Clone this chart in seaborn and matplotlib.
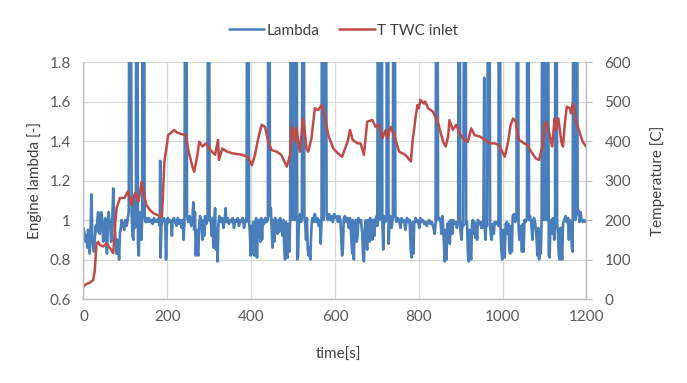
import numpy as np
import pandas as pd
import matplotlib
matplotlib.use("Agg")
import matplotlib.pyplot as plt
import seaborn as sns
from matplotlib.lines import Line2D
from matplotlib.ticker import FuncFormatter

# ===== DATA =====
# engine lambda, (time [s], lambda [-]); values above 1.8 are the clipped spikes
lambda_points = [
    (0, 0.96), (3, 0.93), (5, 0.89), (7, 0.92), (9, 0.86), (11, 0.95), (13, 0.90), (15, 0.83),
    (17, 0.96), (19, 1.13), (21, 0.92), (23, 0.86), (25, 0.84), (27, 0.90), (29, 0.97), (31, 0.94),
    (33, 1.00), (35, 1.04), (37, 0.96), (39, 0.93), (41, 1.02), (43, 1.04), (45, 0.99), (47, 0.89),
    (49, 0.95), (52, 1.01), (54, 0.90), (56, 0.83), (58, 0.95), (60, 1.04), (62, 1.00), (64, 0.97),
    (66, 0.89), (68, 0.95), (71, 1.16), (73, 1.00), (75, 0.96), (77, 0.88), (79, 0.83), (81, 0.90),
    (83, 0.86), (85, 0.80), (87, 0.93), (89, 0.96), (91, 1.00), (94, 0.98), (97, 0.95), (100, 1.00),
    (103, 0.97), (106, 1.01), (108, 1.04), (110, 3.0), (112, 3.0), (115, 1.03), (117, 0.92), (119, 0.90),
    (121, 1.10), (123, 0.96), (125, 1.02), (126, 3.0), (128, 3.0), (130, 0.88), (132, 0.82), (134, 1.04),
    (136, 0.95), (138, 0.90), (140, 1.00), (141, 3.0), (144, 3.0), (146, 1.02), (148, 0.99), (150, 1.01),
    (153, 0.99), (156, 1.01), (159, 0.99), (162, 1.00), (165, 0.98), (168, 1.01), (171, 0.99), (174, 1.00),
    (177, 0.99), (180, 1.01), (182, 0.97), (183, 1.30), (184, 0.81), (186, 0.97), (189, 1.00), (192, 1.01),
    (195, 0.99), (197, 0.80), (199, 0.97), (201, 1.01), (203, 0.99),
    (206, 1.00), (209, 0.99), (211, 0.92), (213, 1.00), (216, 1.01), (219, 0.99), (222, 0.97), (225, 1.01),
    (228, 0.98), (231, 1.00), (234, 0.96), (237, 1.00), (239, 0.90), (241, 1.00), (243, 3.0), (245, 3.0),
    (247, 1.02), (250, 0.99), (253, 1.02), (257, 0.97), (260, 1.01), (262, 1.09), (264, 0.95), (266, 1.04),
    (268, 0.82), (270, 0.95), (272, 0.84), (274, 0.82), (276, 0.97), (278, 1.02), (281, 0.99), (284, 0.90),
    (286, 1.00), (288, 0.92), (290, 1.02), (293, 0.98), (296, 1.00), (297, 3.0), (299, 3.0), (301, 1.00),
    (304, 0.99), (306, 0.92), (308, 1.01), (310, 0.86), (312, 0.98), (314, 1.06), (316, 0.85), (318, 0.95),
    (320, 0.79), (322, 0.98), (324, 1.02), (328, 0.99), (331, 1.01), (334, 0.96), (337, 1.00), (339, 1.06),
    (341, 0.99), (344, 1.01), (347, 0.98), (350, 1.00), (353, 0.99), (356, 1.01), (359, 0.96), (362, 1.00),
    (365, 0.99), (368, 1.01), (371, 0.97), (374, 1.00), (377, 0.99), (380, 1.01), (383, 0.96), (386, 1.00),
    (389, 0.99), (391, 3.0), (393, 3.0), (395, 1.00), (397, 0.93), (399, 0.82), (401, 0.97), (403, 0.83),
    (405, 0.99),
    (408, 0.82), (410, 0.98), (412, 1.01), (414, 0.81), (416, 0.99), (419, 1.00), (422, 0.89), (424, 1.01),
    (426, 0.90), (428, 1.00), (431, 0.98), (434, 1.01), (437, 0.99), (440, 1.00), (441, 3.0), (443, 3.0),
    (445, 1.02), (447, 1.06), (449, 0.95), (451, 0.86), (453, 1.00), (455, 0.89), (457, 1.01), (460, 0.99),
    (463, 0.93), (465, 1.00), (467, 0.94), (469, 1.01), (472, 0.99), (475, 0.92), (477, 1.00), (479, 0.86),
    (481, 0.80), (483, 0.99), (485, 0.82), (487, 0.81), (489, 0.98), (491, 0.84), (493, 1.00), (495, 3.0),
    (497, 3.0), (499, 1.0), (500, 3.0), (502, 3.0), (504, 1.0), (505, 3.0), (508, 3.0), (510, 0.80),
    (512, 0.82), (514, 1.00), (517, 1.03), (519, 0.99), (521, 1.01), (523, 3.0), (525, 3.0), (527, 1.01),
    (529, 0.98), (531, 0.90), (533, 1.01), (535, 0.85), (537, 0.82), (539, 0.86), (541, 0.80), (544, 0.97),
    (546, 1.01), (549, 0.99), (552, 1.03), (555, 0.99), (558, 1.01), (561, 0.97), (564, 1.00), (566, 0.88),
    (568, 1.00), (569, 3.0), (571, 3.0), (573, 1.0), (576, 3.0), (578, 3.0), (580, 1.02), (583, 1.00),
    (586, 1.03), (589, 1.00), (592, 1.02), (595, 0.99), (598, 1.03), (601, 1.01), (604, 1.02), (607, 0.99),
    (610, 1.02), (613, 1.00), (617, 0.82), (619, 0.86), (621, 1.01), (624, 1.02), (627, 0.99), (630, 1.01),
    (633, 0.96), (636, 1.01), (639, 0.90), (641, 0.83), (643, 1.00), (645, 0.80), (647, 0.97), (650, 1.00),
    (652, 0.89), (654, 0.92), (656, 1.01), (659, 0.99), (662, 1.00), (665, 0.93), (667, 0.82), (669, 0.79),
    (671, 0.95), (673, 1.00), (675, 0.87), (677, 0.85), (679, 1.00), (682, 0.89), (684, 1.01), (687, 0.98),
    (689, 0.90), (691, 1.00), (694, 0.92), (696, 1.00), (699, 1.02), (701, 0.97), (703, 3.0), (705, 3.0),
    (707, 1.0), (708, 3.0), (711, 3.0), (713, 1.00), (715, 0.85), (717, 1.02), (720, 0.99), (723, 1.01),
    (724, 3.0), (726, 3.0), (728, 0.88), (730, 0.99), (732, 1.02), (735, 0.96), (738, 1.01), (740, 3.0),
    (742, 3.0), (744, 1.02), (747, 0.99), (750, 1.01), (753, 1.00), (756, 0.96), (759, 1.01), (762, 0.99),
    (765, 1.00), (768, 0.95), (772, 1.01), (775, 0.99), (778, 1.00), (781, 0.84), (783, 0.81), (785, 0.99),
    (787, 0.83), (789, 0.98), (792, 1.01), (795, 0.99), (798, 1.00), (801, 0.96), (804, 1.01), (807, 0.99),
    (810, 1.00),
    (813, 0.98), (816, 0.99), (819, 0.97), (822, 0.99), (825, 1.00), (828, 0.98), (831, 0.99), (835, 0.96),
    (838, 0.93), (840, 0.99), (842, 3.0), (844, 3.0), (846, 1.00), (849, 1.01), (852, 0.99), (854, 0.93),
    (856, 1.02), (858, 0.97), (860, 0.88), (862, 0.79), (864, 0.95), (866, 0.80), (868, 0.98), (870, 0.90),
    (872, 0.99), (874, 0.88), (876, 1.00), (878, 0.97), (880, 0.93), (882, 1.00), (885, 0.98), (888, 0.99),
    (891, 0.96), (894, 1.00), (895, 3.0), (897, 3.0), (899, 0.95), (902, 0.90), (904, 0.99), (906, 0.97),
    (909, 3.0), (911, 3.0), (913, 0.98), (915, 0.99), (917, 0.83), (919, 0.79), (921, 0.95), (923, 0.82),
    (925, 0.80), (927, 0.98), (929, 1.00), (931, 0.93), (933, 0.99), (935, 0.91), (937, 0.98), (939, 0.90),
    (941, 1.00), (944, 0.98), (947, 0.99), (949, 0.96), (952, 0.99), (954, 0.96), (956, 1.72), (957, 0.98),
    (959, 0.90), (961, 0.99), (963, 0.97), (966, 3.0), (968, 3.0), (970, 0.98), (972, 0.92), (974, 0.90),
    (976, 0.98), (979, 0.93), (981, 0.99), (984, 0.98), (987, 0.99), (990, 0.97), (991, 3.0), (993, 3.0),
    (995, 0.96), (997, 0.84), (999, 0.80), (1001, 0.95), (1003, 0.84), (1005, 0.81), (1007, 0.98), (1010, 0.99),
    (1012, 0.93), (1014, 0.98),
    (1016, 0.85), (1018, 0.83), (1020, 0.97), (1022, 0.84), (1024, 1.02), (1027, 1.03), (1030, 0.99), (1033, 1.00),
    (1034, 3.0), (1036, 3.0), (1038, 0.96), (1040, 0.90), (1042, 0.97), (1044, 0.93), (1046, 0.84), (1048, 0.98),
    (1050, 0.84), (1052, 1.00), (1055, 0.99), (1058, 1.01), (1059, 3.0), (1061, 3.0), (1063, 1.00), (1065, 1.02),
    (1068, 0.99), (1071, 0.90), (1073, 1.00), (1075, 1.01), (1078, 0.98), (1081, 0.90), (1083, 0.82), (1085, 0.96),
    (1087, 0.80), (1089, 0.92), (1091, 0.83), (1093, 1.00), (1095, 3.0), (1097, 3.0), (1099, 1.0), (1100, 3.0),
    (1103, 3.0), (1105, 1.0), (1106, 3.0), (1108, 3.0), (1110, 0.82), (1112, 0.81), (1114, 0.98), (1116, 1.00),
    (1118, 0.93), (1120, 1.01), (1123, 0.90), (1125, 0.98), (1126, 3.0), (1128, 3.0), (1130, 0.99), (1132, 0.93),
    (1134, 0.82), (1136, 0.80), (1138, 0.96), (1140, 0.85), (1142, 0.80), (1144, 0.98), (1147, 1.00), (1150, 1.02),
    (1153, 0.99), (1156, 1.01), (1158, 0.90), (1160, 1.00), (1163, 0.98), (1165, 0.86), (1167, 0.84), (1169, 3.0),
    (1171, 3.0), (1173, 1.0), (1175, 3.0), (1177, 3.0), (1179, 1.03), (1181, 1.05), (1183, 0.99), (1186, 1.04),
    (1188, 1.00), (1191, 0.99), (1194, 1.00), (1197, 0.99), (1200, 1.00),
]

# TWC inlet temperature, (time [s], T [C])
temp_points = [
    (0, 32), (7, 38), (16, 42), (23, 48), (27, 72), (31, 140), (35, 145), (39, 137), (47, 133),
    (55, 141), (63, 129), (71, 116), (75, 180), (79, 230), (87, 256), (98, 256), (106, 272),
    (115, 238), (123, 268), (131, 247), (139, 297), (143, 272), (150, 238), (158, 226), (166, 218),
    (177, 212), (187, 208), (189, 250), (193, 348), (199, 390), (202, 415), (208, 420), (216, 428),
    (224, 421), (232, 418), (244, 415), (251, 373), (260, 335), (264, 322), (272, 365), (276, 398),
    (284, 386), (292, 394), (303, 377), (314, 365), (321, 403), (323, 352), (331, 381), (343, 373),
    (355, 369), (367, 367), (379, 365), (391, 360), (402, 339), (409, 365), (417, 407), (425, 441),
    (433, 436), (441, 398), (449, 377), (461, 373), (472, 365), (485, 335), (493, 365), (497, 436),
    (501, 425), (504, 398), (508, 433), (516, 373), (524, 457), (528, 424), (532, 381), (536, 373),
    (544, 407), (552, 483), (560, 478), (568, 491), (576, 462), (584, 415), (596, 381), (607, 369),
    (617, 360), (630, 398), (636, 428), (642, 403), (654, 394), (661, 394), (669, 365), (677, 449),
    (689, 453), (697, 436), (705, 441), (713, 407), (721, 428), (725, 407), (733, 436), (741, 415),
    (753, 373), (768, 365), (781, 348), (785, 398), (793, 466), (797, 491), (800, 483), (804, 504),
    (812, 495), (815, 500), (822, 483), (834, 474), (846, 445), (858, 398), (864, 386), (870, 411),
    (873, 453), (881, 428), (889, 441), (897, 420), (905, 407), (917, 398), (925, 432), (933, 415),
    (946, 411), (958, 403), (969, 394), (981, 394), (990, 390), (997, 377), (1005, 360), (1013, 398),
    (1019, 441), (1025, 457), (1031, 449), (1039, 403), (1051, 394), (1059, 390), (1068, 373),
    (1079, 356), (1087, 352), (1096, 394), (1100, 441), (1105, 449), (1112, 415), (1118, 386),
    (1124, 457), (1127, 428), (1133, 457), (1140, 398), (1144, 386), (1148, 441), (1153, 487),
    (1160, 483), (1163, 470), (1167, 495), (1171, 483), (1175, 449), (1183, 424), (1191, 398),
    (1199, 386),
]

x_ticks = [0, 200, 400, 600, 800, 1000, 1200]
lambda_ticks = [0.6, 0.8, 1.0, 1.2, 1.4, 1.6, 1.8]
temp_ticks = [0, 100, 200, 300, 400, 500, 600]

df_lambda = pd.DataFrame(lambda_points, columns=["time", "lambda"])
df_temp = pd.DataFrame(temp_points, columns=["time", "temp"])

BLUE = "#4a7ebb"
RED = "#be4b48"
GRID = "#d9d9d9"
TICK_TXT = "#595959"
LABEL_TXT = "#404040"

# ===== STYLE =====
sns.set_style("white")
plt.rcParams["font.family"] = ["Lato", "DejaVu Sans"]
plt.rcParams["font.size"] = 11

fig = plt.figure(figsize=(6.87, 3.83), dpi=100)
ax = fig.add_axes([0.1215, 0.2193, 0.7322, 0.6188])
ax2 = ax.twinx()

# ===== PLOT =====
sns.lineplot(data=df_lambda, x="time", y="lambda", ax=ax, color=BLUE, linewidth=1.9,
             estimator=None, sort=False)
sns.lineplot(data=df_temp, x="time", y="temp", ax=ax2, color=RED, linewidth=1.8,
             estimator=None, sort=False)

ax.set_xlim(0, 1200)
ax.set_ylim(0.6, 1.8)
ax2.set_ylim(0, 600)
ax.set_xticks(x_ticks)
ax.set_yticks(lambda_ticks)
ax2.set_yticks(temp_ticks)
ax.yaxis.set_major_formatter(FuncFormatter(lambda v, p: f"{v:g}"))

ax.grid(True, color=GRID, linewidth=0.9)
ax2.grid(False)
ax.spines["top"].set_visible(False)
ax2.spines["top"].set_visible(False)
for a in (ax, ax2):
    for sp in ["left", "bottom", "right"]:
        a.spines[sp].set_color("#bfbfbf")
        a.spines[sp].set_linewidth(0.9)

ax.tick_params(axis="both", length=0, colors=TICK_TXT, labelsize=11, pad=9)
ax.tick_params(axis="x", pad=8)
ax2.tick_params(axis="y", length=4, width=0.9, color="#bfbfbf", labelcolor=TICK_TXT,
                labelsize=11, pad=9)

ax.set_xlabel("time[s]", color=LABEL_TXT, fontsize=11)
ax.set_ylabel("Engine lambda [-]", color=LABEL_TXT, fontsize=11)
ax2.set_ylabel("Temperature [C]", color=LABEL_TXT, fontsize=11)
ax.xaxis.set_label_coords(0.506, -0.205)
ax.yaxis.set_label_coords(-0.083, 0.5)
ax2.yaxis.set_label_coords(1.126, 0.5)

handles = [Line2D([], [], color=BLUE, linewidth=1.8),
           Line2D([], [], color=RED, linewidth=1.8)]
leg = fig.legend(handles, ["Lambda", "T TWC inlet"], loc="center", ncol=2,
                 bbox_to_anchor=(0.5, 0.92), frameon=False, fontsize=11,
                 handlelength=2.3, handletextpad=0.15, columnspacing=1.3)
for t in leg.get_texts():
    t.set_color(LABEL_TXT)

fig.savefig("out.png", dpi=100)
